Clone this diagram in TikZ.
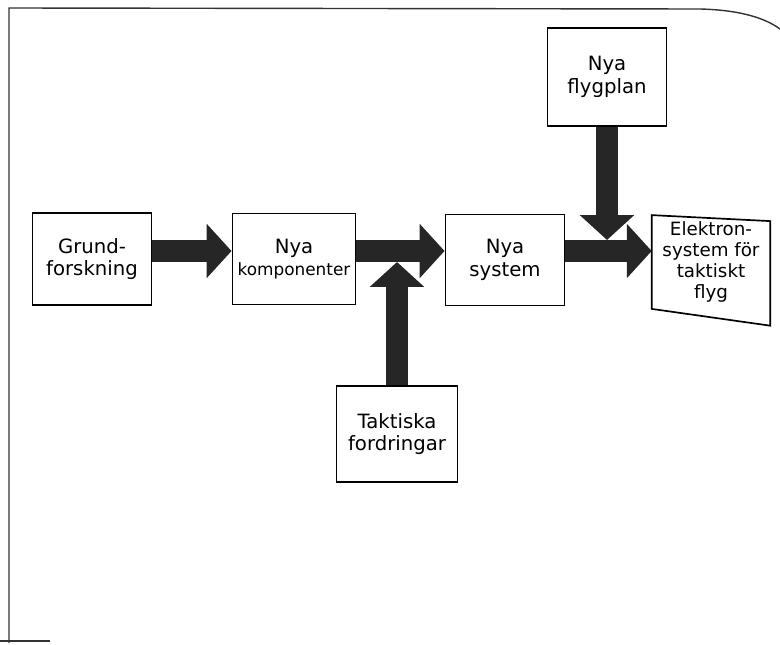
\documentclass[tikz,border=0pt]{standalone}
\usepackage{fontspec}
\setmainfont{DejaVu Sans}
\usetikzlibrary{arrows.meta}

\tikzset{
  box/.style={draw, line width=1.2pt, align=center, inner sep=1pt,
    font=\fontsize{14}{16}\selectfont},
  flow/.style={line width=0.55cm, draw=black!85,
    -{Triangle[width=1.32cm,length=0.62cm]}},
}

\begin{document}
\begin{tikzpicture}[x=0.025cm,y=-0.025cm]
\useasboundingbox (0,0) rectangle (780,644);
% page edge
\draw[line width=1pt, black!80] (9,643) -- (9,8) -- (700,9)
  .. controls (740,10) and (765,18) .. (780,29);
\draw[line width=1pt, black!80] (0,641) -- (50,641);

\node[box, minimum width=2.98cm, minimum height=2.3cm] (grund) at (92,259) {Grund-\\forskning};
\node[box, minimum width=3.08cm, minimum height=2.28cm] (komp) at (294,259) {Nya\\{\fontsize{12}{15}\selectfont komponenter}};
\node[box, minimum width=2.98cm, minimum height=2.28cm] (sys) at (505,260) {Nya\\system};
\node[box, minimum width=2.98cm, minimum height=2.45cm] (plan) at (607,77) {Nya\\flygplan};
\node[box, minimum width=3.03cm, minimum height=2.4cm] (takt) at (397,434) {Taktiska\\fordringar};
\node[align=center, inner sep=1pt, minimum width=2.95cm, minimum height=2.33cm,
  font=\fontsize{13}{15}\selectfont] (elek) at (711,262) {Elektron-\\system för\\taktiskt\\flyg};
\draw[line width=1.2pt] (elek.north west) -- ([yshift=-0.15cm]elek.north east)
  -- ([yshift=-0.42cm]elek.south east) -- (elek.south west) -- cycle;

\coordinate (row) at (0,251);
\coordinate (low) at (0,262);
\coordinate (high) at (0,240);

\draw[flow] (grund.east |- row) -- (komp.west |- row);
\draw[flow] (komp.east |- row) -- (sys.west |- row);
\draw[flow] (sys.east |- row) -- (elek.west |- row);
\draw[flow] (takt.north) -- (takt.north |- low);
\draw[flow] (plan.south) -- (plan.south |- high);
\end{tikzpicture}
\end{document}
